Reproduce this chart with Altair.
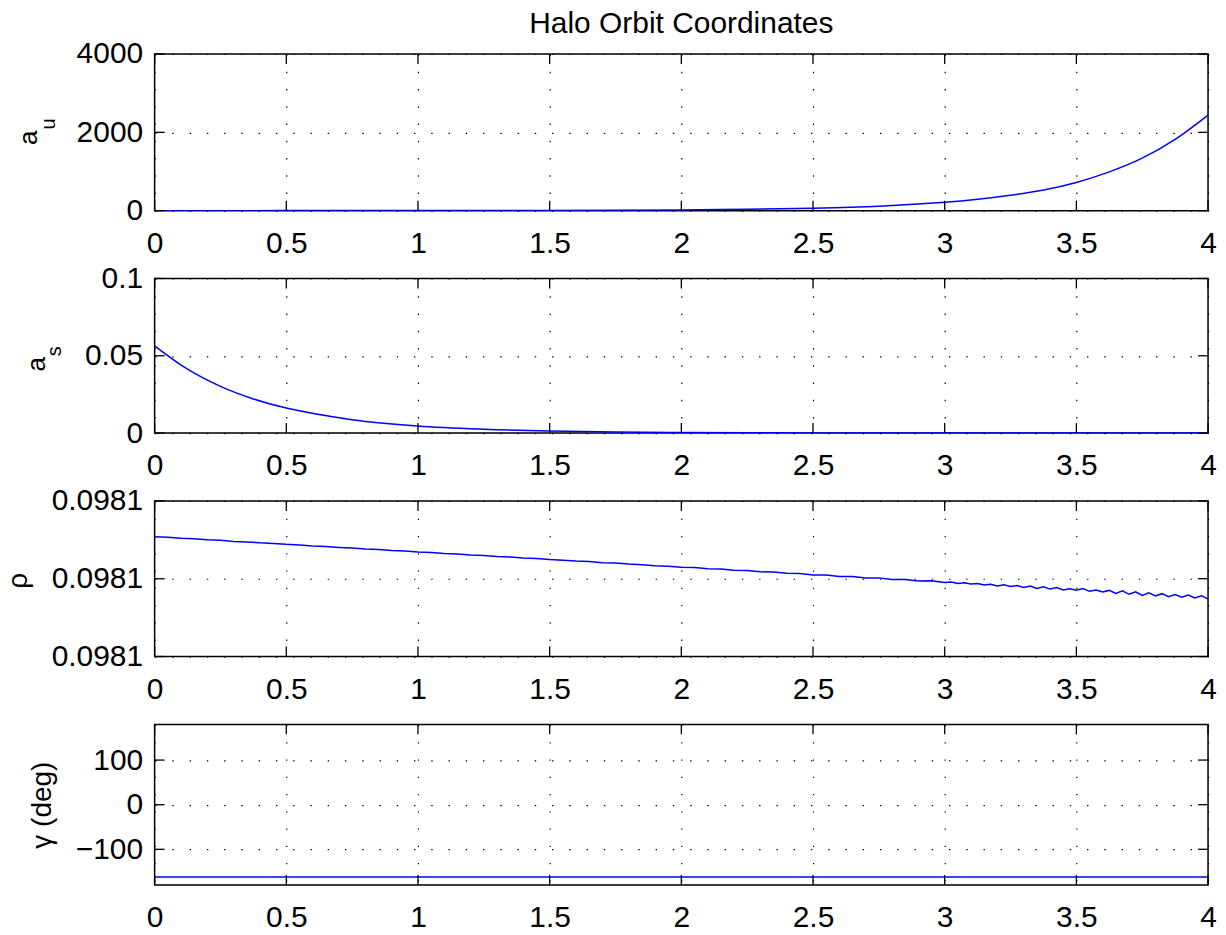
import altair as alt
import pandas as pd

FONT = "Liberation Sans"
W = 1056

# ---------------- data ----------------
x_ticks = [0, 0.5, 1, 1.5, 2, 2.5, 3, 3.5, 4]

t_au = [0, 0.25, 0.5, 0.75, 1, 1.25, 1.5, 1.75, 2, 2.25, 2.5, 2.75,
        3, 3.125, 3.25, 3.375, 3.5, 3.625, 3.75, 3.875, 4]
a_u = [0.14, 0.26, 0.48, 0.88, 1.6, 3.0, 5.5, 10, 18.5, 34, 63, 115,
       212, 288, 391, 525, 720, 990, 1340, 1820, 2440]

t_as = [0, 0.125, 0.25, 0.375, 0.5, 0.75, 1, 1.25, 1.5, 1.75, 2, 2.25,
        2.5, 2.75, 3, 3.25, 3.5, 3.75, 4]
a_s = [0.0564, 0.0413, 0.0302, 0.0221, 0.0162, 0.0087, 0.0046, 0.0025,
       0.0013, 0.0007, 0.0004, 0.0002, 0.0001, 0.00006, 0.00003, 0.00002,
       0.00001, 0.000005, 0.000003]

t_rho = [round(i * 0.05, 3) for i in range(61)] + \
        [round(3 + j * 0.025, 3) for j in range(1, 41)]
rho = [
    0.09811040, 0.09811033, 0.09811020, 0.09811013, 0.09811000, 0.09810994,
    0.09810980, 0.09810973, 0.09810961, 0.09810954, 0.09810942, 0.09810934,
    0.09810922, 0.09810914, 0.09810903, 0.09810895, 0.09810883, 0.09810876,
    0.09810864, 0.09810856, 0.09810844, 0.09810837, 0.09810825, 0.09810817,
    0.09810805, 0.09810798, 0.09810786, 0.09810778, 0.09810766, 0.09810759,
    0.09810747, 0.09810739, 0.09810727, 0.09810720, 0.09810707, 0.09810701,
    0.09810688, 0.09810681, 0.09810668, 0.09810662, 0.09810648, 0.09810643,
    0.09810628, 0.09810624, 0.09810608, 0.09810605, 0.09810589, 0.09810586,
    0.09810569, 0.09810567, 0.09810549, 0.09810548, 0.09810529, 0.09810530,
    0.09810509, 0.09810511, 0.09810489, 0.09810491, 0.09810470, 0.09810473,
    0.09810451,
    0.09810458, 0.09810440, 0.09810448, 0.09810432, 0.09810440, 0.09810420,
    0.09810430, 0.09810408, 0.09810421, 0.09810400, 0.09810412, 0.09810388,
    0.09810405, 0.09810376, 0.09810396, 0.09810367, 0.09810386, 0.09810356,
    0.09810370, 0.09810352, 0.09810375, 0.09810338, 0.09810355, 0.09810329,
    0.09810350, 0.09810312, 0.09810344, 0.09810300, 0.09810333, 0.09810285,
    0.09810318, 0.09810278, 0.09810308, 0.09810270, 0.09810296, 0.09810262,
    0.09810290, 0.09810252, 0.09810282, 0.09810240,
]

t_gamma = [0, 4]
gamma_deg = [-162, -162]

au_ticks = [0, 2000, 4000]
as_ticks = [0, 0.05, 0.1]
rho_ticks = [0.098095, 0.098105, 0.098115]
gamma_ticks = [-100, 0, 100]

one_row = pd.DataFrame({"k": [0]})


def label(text, size, dx, dy):
    return alt.Chart(one_row).mark_text(
        text=text, angle=270, fontSize=size, font=FONT, color="black",
        align="center", baseline="middle"
    ).encode(x=alt.value(dx), y=alt.value(dy))


def panel(t, vals, ydomain, yticks, yfmt, H, labels, title=None, interp="catmull-rom"):
    df = pd.DataFrame({"t": t, "v": vals})
    xs = alt.Scale(domain=[0, 4], nice=False, zero=False)
    ys = alt.Scale(domain=ydomain, nice=False, zero=False)
    xaxis = alt.Axis(values=x_ticks, format="~g", grid=True, ticks=False,
                     domain=False, labelFlush=False, labelPadding=18,
                     title=None, labelOverlap=False)
    yaxis = alt.Axis(values=yticks, format=yfmt, grid=True, ticks=False,
                     domain=False, labelPadding=12, title=None,
                     labelOverlap=False)
    line = alt.Chart(df).mark_line(
        color="#0000ff", strokeWidth=1.5, clip=True, interpolate=interp
    ).encode(
        x=alt.X("t:Q", scale=xs, axis=xaxis),
        y=alt.Y("v:Q", scale=ys, axis=yaxis),
    )
    xt = pd.DataFrame({"t": x_ticks})
    yt = pd.DataFrame({"v": yticks})
    rule = dict(color="black", strokeWidth=1.3)
    top_t = alt.Chart(xt).mark_rule(**rule).encode(
        x=alt.X("t:Q", scale=xs, axis=xaxis), y=alt.value(0), y2=alt.value(10))
    bot_t = alt.Chart(xt).mark_rule(**rule).encode(
        x=alt.X("t:Q", scale=xs, axis=xaxis), y=alt.value(H - 10), y2=alt.value(H))
    left_t = alt.Chart(yt).mark_rule(**rule).encode(
        y=alt.Y("v:Q", scale=ys, axis=yaxis), x=alt.value(0), x2=alt.value(10))
    right_t = alt.Chart(yt).mark_rule(**rule).encode(
        y=alt.Y("v:Q", scale=ys, axis=yaxis), x=alt.value(W - 10), x2=alt.value(W))
    texts = [label(*l) for l in labels]
    ch = alt.layer(line, top_t, bot_t, left_t, right_t, *texts)
    props = dict(width=W, height=H)
    if title:
        props["title"] = alt.TitleParams(
            title, fontSize=30, font=FONT, fontWeight="normal", color="black",
            anchor="middle", offset=0)
    return ch.properties(**props)


p1 = panel(t_au, a_u, [0, 4000], au_ticks, "d", 157,
           [("a", 26, -126, 84), ("u", 20, -106, 70)],
           title="Halo Orbit Coordinates")
p2 = panel(t_as, a_s, [0, 0.1], as_ticks, "~g", 155,
           [("a", 26, -118, 86), ("s", 20, -100, 73)])
p3 = panel(t_rho, rho, [0.098095, 0.098115], rho_ticks, ".4f", 156,
           [("ρ", 28, -136, 80)], interp="linear")
p4 = panel(t_gamma, gamma_deg, [-180, 180], gamma_ticks, "d", 161,
           [("γ (deg)", 28, -112, 81)], interp="linear")

chart = alt.vconcat(p1, p2, p3, p4, spacing=68, bounds="flush").configure_view(
    stroke="black", strokeWidth=1.5
).configure_axis(
    labelFont=FONT, labelFontSize=30, labelColor="black",
    gridColor="black", gridDash=[1.4, 15.9], gridWidth=1.2, gridOpacity=1,
).properties(
    padding={"left": 4, "top": 7, "right": 8, "bottom": 8},
    background="white",
)

chart.save("out.html", embed_options={"renderer": "svg", "actions": False})
